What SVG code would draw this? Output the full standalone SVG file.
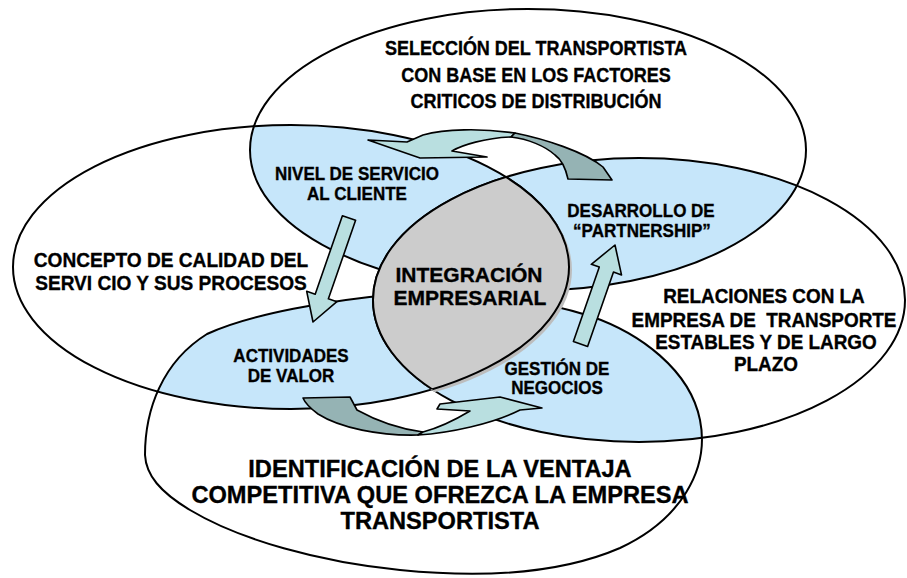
<svg xmlns="http://www.w3.org/2000/svg" width="907" height="578" viewBox="0 0 907 578">
<style>
.bg{fill:#fff;stroke:none}
.ov{fill:#C6E6FA;stroke:none}
.ol{fill:none;stroke:#000;stroke-width:2;stroke-linejoin:round}
.core{fill:#CCCCCC;stroke:none}
.shadow{fill:#BDBDBD;stroke:none}
.al{fill:#B9DFE0;stroke:#000;stroke-width:1.6;stroke-linejoin:round}
.ad{fill:#95B3B4;stroke:#000;stroke-width:1.6;stroke-linejoin:round}
text{font-family:"Liberation Sans",Arial,Helvetica,sans-serif;font-weight:bold;fill:#000;stroke:#000;stroke-width:0.35;text-anchor:middle}
</style>
<defs>
<ellipse id="eTop" cx="528" cy="150" rx="278" ry="141"/>
<ellipse id="eLeft" cx="291" cy="267" rx="278" ry="142"/>
<ellipse id="eRight" cx="639" cy="300" rx="266" ry="142"/>
<path id="eBottom" d="M145,455 C145,410 162,362 207,334 C250,314 330,300 400,294 C470,290 540,300 590,316 C640,333 690,370 700,420 C710,470 680,520 620,548 C560,574 480,578 400,570 C320,562 240,540 190,510 C160,492 146,475 145,455 Z"/>
<clipPath id="cLeft"><use href="#eLeft"/></clipPath>
<clipPath id="cRight"><use href="#eRight"/></clipPath>
</defs>

<g id="ellipse-fills">
<use href="#eTop" class="bg"/>
<use href="#eLeft" class="bg"/>
<use href="#eRight" class="bg"/>
<use href="#eBottom" class="bg"/>
</g>

<g id="overlaps">
<use id="overlap-nivel" href="#eTop" class="ov" clip-path="url(#cLeft)"/>
<use id="overlap-desarrollo" href="#eTop" class="ov" clip-path="url(#cRight)"/>
<use id="overlap-actividades" href="#eBottom" class="ov" clip-path="url(#cLeft)"/>
<use id="overlap-gestion" href="#eBottom" class="ov" clip-path="url(#cRight)"/>
</g>

<g id="ellipse-outlines">
<use href="#eTop" class="ol"/>
<use href="#eLeft" class="ol"/>
<use href="#eRight" class="ol"/>
<use href="#eBottom" class="ol"/>
</g>

<g id="node-integracion">
<g transform="translate(3,3)"><ellipse cx="639" cy="300" rx="266" ry="142" class="shadow" clip-path="url(#cLeft)"/></g>
<use href="#eRight" class="core" clip-path="url(#cLeft)"/>
<use href="#eRight" class="ol" clip-path="url(#cLeft)"/>
<use href="#eLeft" class="ol" clip-path="url(#cRight)"/>
<text font-size="21"><tspan x="469" y="282">INTEGRACIÓN</tspan><tspan x="470" y="305">EMPRESARIAL</tspan></text>
</g>

<g id="connectors">
<g id="arrow-top">
<path class="al" d="M368,140 L407,142 L423,135 C445,129 480,128 515,133 L511,137 C485,138 462,145 452,151 L487,157 L420,158 Z"/>
<path class="ad" d="M515,133 C545,139 585,152 603,167 L612,180 L568,179 C566,170 562,160 555,155 C545,146 528,139 511,137 Z"/>
</g>
<g id="arrow-bottom">
<path class="ad" d="M303,398 L350,397 L357,410 C375,420 400,429 423,432 L418,435 C380,436 340,428 318,414 C310,408 305,403 303,398 Z"/>
<path class="al" d="M418,435 C450,433 492,424 520,410 L542,408 L500,397 L440,404 L437,409 L470,411 C455,420 438,428 423,432 Z"/>
</g>
<path id="arrow-left" class="al" d="M342.4,215.7 L355.6,220.3 L328.4,298.8 L336.9,301.7 L313,322 L306.7,291.3 L315.2,294.2 Z"/>
<path id="arrow-right" class="al" d="M573.4,341.5 L599.3,267.1 L591.3,264.3 L615,245 L621.5,274.9 L613.5,272.1 L587.6,346.5 Z"/>
</g>

<g id="node-seleccion">
<text font-size="20" transform="translate(536,0) scale(0.9,1)"><tspan x="0" y="55">SELECCIÓN DEL TRANSPORTISTA</tspan><tspan x="0" y="82">CON BASE EN LOS FACTORES</tspan><tspan x="0" y="108">CRITICOS DE DISTRIBUCIÓN</tspan></text>
</g>
<g id="node-concepto">
<text font-size="21" transform="translate(171,0) scale(0.91,1)"><tspan x="0" y="267">CONCEPTO DE CALIDAD DEL</tspan><tspan x="0" y="290">SERVI CIO Y SUS PROCESOS</tspan></text>
</g>
<g id="node-relaciones">
<text font-size="19.5" transform="translate(764,0) scale(0.97,1)"><tspan x="0" y="303">RELACIONES CON LA</tspan><tspan x="0" y="327" xml:space="preserve">EMPRESA DE  TRANSPORTE</tspan><tspan x="2" y="349">ESTABLES Y DE LARGO</tspan><tspan x="2" y="371">PLAZO</tspan></text>
</g>
<g id="node-identificacion">
<text font-size="24" transform="translate(440,0) scale(0.985,1)"><tspan x="0" y="477">IDENTIFICACIÓN DE LA VENTAJA</tspan><tspan x="0" y="503">COMPETITIVA QUE OFREZCA LA EMPRESA</tspan><tspan x="0" y="529">TRANSPORTISTA</tspan></text>
</g>
<g id="node-nivel">
<text font-size="18.5" transform="translate(357,0) scale(0.92,1)"><tspan x="0" y="180">NIVEL DE SERVICIO</tspan><tspan x="0" y="200">AL CLIENTE</tspan></text>
</g>
<g id="node-desarrollo">
<text font-size="18.5" transform="translate(641,0) scale(0.92,1)"><tspan x="0" y="217">DESARROLLO DE</tspan><tspan x="1" y="237">“PARTNERSHIP”</tspan></text>
</g>
<g id="node-actividades">
<text font-size="18.5" transform="translate(291,0) scale(0.92,1)"><tspan x="0" y="362">ACTIVIDADES</tspan><tspan x="0" y="382">DE VALOR</tspan></text>
</g>
<g id="node-gestion">
<text font-size="18.5" transform="translate(557,0) scale(0.92,1)"><tspan x="0" y="375">GESTIÓN DE</tspan><tspan x="0" y="394">NEGOCIOS</tspan></text>
</g>
</svg>
